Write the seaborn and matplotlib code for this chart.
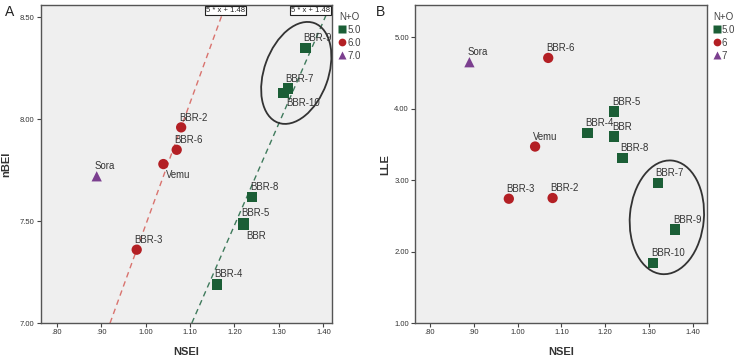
import numpy as np
import pandas as pd
import seaborn as sns
import matplotlib.pyplot as plt
from matplotlib.patches import Ellipse
from matplotlib.transforms import ScaledTranslation

sns.set_theme(style='ticks')
plt.rcParams['font.family'] = ['Liberation Sans', 'DejaVu Sans']

# data
names = ['Sora', 'BBR-2', 'BBR-6', 'Vemu', 'BBR-3', 'BBR-9', 'BBR-7', 'BBR-10',
         'BBR-8', 'BBR-5', 'BBR', 'BBR-4']
n_o = [7, 6, 6, 6, 6, 5, 5, 5, 5, 5, 5, 5]
nsei = [0.89, 1.08, 1.07, 1.04, 0.98, 1.36, 1.32, 1.31, 1.24, 1.22, 1.22, 1.16]
nbei = [7.72, 7.96, 7.85, 7.78, 7.36, 8.35, 8.15, 8.13, 7.62, 7.49, 7.48, 7.19]
lle = [4.65, 2.75, 4.71, 3.47, 2.74, 2.31, 2.96, 1.84, 3.31, 3.96, 3.61, 3.66]
below_a = ['Vemu', 'BBR-10', 'BBR']   # labels under the point in panel A

levels = [5, 6, 7]
legend_a = ['5.0', '6.0', '7.0']
legend_b = ['5.0', '6', '7']
colors = ['#1b5e36', '#b31f24', '#7b3f8f']
mk = ['s', 'o', '^']

# reference lines in panel A
ref_slope = [6.0, 5.0]
ref_icpt = [1.48, 1.48]
ref_text = ['5 * x + 1.48', '5 * x + 1.48']
ref_color = ['#d9736e', '#3f7a5c']

xticks = [0.8, 0.9, 1.0, 1.1, 1.2, 1.3, 1.4]
yticks_a = [7.0, 7.5, 8.0, 8.5]
yticks_b = [1.0, 2.0, 3.0, 4.0, 5.0]

df = pd.DataFrame({'name': names, 'NO': n_o, 'NSEI': nsei, 'nBEI': nbei, 'LLE': lle})
df['gA'] = df.NO.map(dict(zip(levels, legend_a)))
df['gB'] = df.NO.map(dict(zip(levels, legend_b)))

fig = plt.figure(figsize=(7.4, 3.59), dpi=100)
axA = fig.add_axes([0.055, 0.100, 0.394, 0.886])
axB = fig.add_axes([0.561, 0.100, 0.394, 0.886])

def fmt(v):
    s = '%.2f' % v
    return s[1:] if s.startswith('0') else s

def style(ax, yticks, ylabel):
    ax.set_facecolor('#efefef')
    for sp in ax.spines.values():
        sp.set_color('#555555')
        sp.set_linewidth(1.0)
    ax.set_xticks(xticks)
    ax.set_xticklabels([fmt(v) for v in xticks])
    ax.set_yticks(yticks)
    ax.set_yticklabels([fmt(v) for v in yticks])
    ax.tick_params(length=3, width=0.8, color='#444444', labelsize=5.5,
                   labelcolor='#333333', pad=1.5)
    ax.set_xlabel('NSEI', fontsize=8, fontweight='bold', color='#333333')
    ax.set_ylabel(ylabel, fontsize=8, fontweight='bold', color='#333333')

def scatter(ax, y, hue, labels):
    sns.scatterplot(data=df, x='NSEI', y=y, hue=hue, style=hue, hue_order=labels,
                    style_order=labels, palette=dict(zip(labels, colors)),
                    markers=dict(zip(labels, mk)), s=55, edgecolor='none', ax=ax)
    sns.move_legend(ax, 'upper left', bbox_to_anchor=(1.0, 1.0), frameon=False,
                    title='N+O', fontsize=7, title_fontsize=7, handletextpad=0.15,
                    handlelength=0.7, labelspacing=0.3, borderaxespad=0.35,
                    borderpad=0.35, markerscale=0.75, labelcolor='#444444',
                    alignment='left')
    ax.get_legend().get_title().set_color('#444444')

# ---- panel A
axA.set_xlim(0.764, 1.42)
axA.set_ylim(7.0, 8.56)
for m, b, c in zip(ref_slope, ref_icpt, ref_color):
    axA.axline((0, b), slope=m, color=c, ls=(0, (4, 3)), lw=1.0, zorder=1)
scatter(axA, 'nBEI', 'gA', legend_a)
style(axA, yticks_a, 'nBEI')
for i, r in df.iterrows():
    if r['name'] in below_a:
        axA.annotate(r['name'], (r.NSEI, r.nBEI), xytext=(2, -4), textcoords='offset points',
                     ha='left', va='top', fontsize=6.9, color='#333333')
    else:
        axA.annotate(r['name'], (r.NSEI, r.nBEI), xytext=(-1.5, 3.5), textcoords='offset points',
                     ha='left', va='bottom', fontsize=6.9, color='#333333')
ytop = axA.get_ylim()[1]
for k, (m, b, t) in enumerate(zip(ref_slope, ref_icpt, ref_text)):
    xt = (ytop - b) / m
    box = dict(boxstyle='square,pad=0.15', fc='white', ec='#222222', lw=0.8)
    if k == 0:
        axA.annotate(t, (xt, 1.0), xycoords=('data', 'axes fraction'), xytext=(0, -1.5),
                     textcoords='offset points', ha='center', va='top', fontsize=5.5,
                     color='#222222', bbox=box, zorder=5)
    else:
        axA.annotate(t, (1.0, 1.0), xycoords='axes fraction', xytext=(-1.5, -1.5),
                     textcoords='offset points', ha='right', va='top', fontsize=5.5,
                     color='#222222', bbox=box, zorder=5)
trA = fig.dpi_scale_trans + ScaledTranslation(1.339, 8.227, axA.transData)
axA.add_patch(Ellipse((0, 0), 0.64, 1.06, angle=-20, transform=trA, fill=False,
                      ec='#333333', lw=1.3, zorder=4))
axA.xaxis.set_label_coords(0.5, -0.075)
axA.yaxis.set_label_coords(-0.10, 0.5)

# ---- panel B
axB.set_xlim(0.766, 1.432)
axB.set_ylim(1.0, 5.45)
scatter(axB, 'LLE', 'gB', legend_b)
style(axB, yticks_b, 'LLE')
for i, r in df.iterrows():
    axB.annotate(r['name'], (r.NSEI, r.LLE), xytext=(-1.5, 3.5), textcoords='offset points',
                 ha='left', va='bottom', fontsize=6.9, color='#333333')
trB = fig.dpi_scale_trans + ScaledTranslation(1.341, 2.48, axB.transData)
axB.add_patch(Ellipse((0, 0), 0.74, 1.14, angle=-5, transform=trB, fill=False,
                      ec='#333333', lw=1.3, zorder=4))
axB.xaxis.set_label_coords(0.5, -0.075)
axB.yaxis.set_label_coords(-0.085, 0.5)

fig.text(0.007, 0.955, 'A', fontsize=10, color='#222222')
fig.text(0.508, 0.955, 'B', fontsize=10, color='#222222')

fig.savefig('out.png', dpi=100)
